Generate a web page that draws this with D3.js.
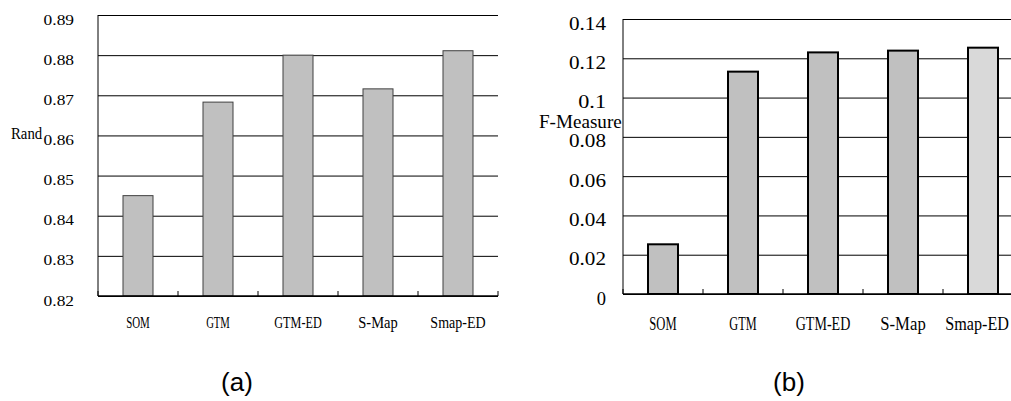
<!DOCTYPE html>
<html>
<head>
<meta charset="utf-8">
<script src="https://cdn.jsdelivr.net/npm/d3@7"></script>
<style>
  body { margin: 0; background: #fff; }
  svg { display: block; }
</style>
</head>
<body>
<div id="chart"></div>
<script>
// data
const categories = ['SOM', 'GTM', 'GTM-ED', 'S-Map', 'Smap-ED'];
const randValues = [0.8450, 0.8683, 0.8800, 0.8716, 0.8811];
const fValues = [0.0253, 0.1132, 0.1230, 0.1239, 0.1254];
const randTicks = [0.82, 0.83, 0.84, 0.85, 0.86, 0.87, 0.88, 0.89];
const fTicks = [0, 0.02, 0.04, 0.06, 0.08, 0.1, 0.12, 0.14];
const yTitles = ['Rand', 'F-Measure'];
const captions = ['(a)', '(b)'];

const width = 1011, height = 401;
const serif = '"Liberation Serif", "DejaVu Serif", serif';

const svg = d3.select('#chart')
  .append('svg')
  .attr('width', width)
  .attr('height', height);

// SimSun-like look: squeeze/stretch each text so every char takes charW px
function fixedWidth(sel, fs, charW, px, py) {
  sel.attr('font-family', serif)
    .attr('font-size', fs)
    .attr('fill', '#000')
    .attr('x', 0)
    .attr('y', 0)
    .attr('dy', null)
    .each(function (d) {
      const w = this.getComputedTextLength();
      const sx = (this.textContent.length * charW) / w;
      const tx = typeof px === 'function' ? px(d) : px;
      d3.select(this).attr('transform', `translate(${tx},${py}) scale(${sx},1)`);
    });
}

const panels = [
  {
    values: randValues, ticks: randTicks, fmt: d3.format('.2f'),
    left: 98, right: 498, top: 15, bottom: 296,
    tickFs: 15.5, tickW: 7.6, tickPad: 24, tickDy: 9,
    labelFs: 17, labelW: 7.9, labelY: 328,
    fills: ['#c0c0c0', '#c0c0c0', '#c0c0c0', '#c0c0c0', '#c0c0c0'],
    stroke: '#404040', sw: 1,
    title: yTitles[0], titleFs: 16, titleW: 7.8, titleX: 11, titleY: 139,
    caption: captions[0], captionX: 237
  },
  {
    values: fValues, ticks: fTicks, fmt: d3.format('.2~f'),
    left: 623, right: 1023, top: 19, bottom: 294,
    tickFs: 19, tickW: 9.25, tickPad: 17, tickDy: 10,
    labelFs: 19.5, labelW: 9.1, labelY: 330,
    fills: ['#c0c0c0', '#c0c0c0', '#c0c0c0', '#c0c0c0', '#d9d9d9'],
    stroke: '#000', sw: 2,
    title: yTitles[1], titleFs: 19, titleW: 9.2, titleX: 539, titleY: 128,
    caption: captions[1], captionX: 789
  }
];

panels.forEach((p) => {
  const g = svg.append('g');

  const x = d3.scaleBand()
    .domain(categories)
    .range([p.left, p.right]);
  const y = d3.scaleLinear()
    .domain(d3.extent(p.ticks))
    .range([p.bottom, p.top]);

  // gridlines + tick labels
  const yAxis = g.append('g')
    .attr('transform', `translate(${p.left},0)`)
    .call(d3.axisLeft(y)
      .tickValues(p.ticks)
      .tickFormat(p.fmt)
      .tickSizeInner(-(p.right - p.left))
      .tickSizeOuter(0)
      .tickPadding(p.tickPad));
  yAxis.select('.domain').remove();
  yAxis.selectAll('.tick line').attr('stroke', '#000');
  yAxis.selectAll('.tick text')
    .call(fixedWidth, p.tickFs, p.tickW, -p.tickPad, p.tickDy);

  // bars
  const barW = x.bandwidth() * 0.375;
  g.append('g')
    .selectAll('rect')
    .data(p.values)
    .enter()
    .append('rect')
    .attr('x', (d, i) => x(categories[i]) + (x.bandwidth() - barW) / 2)
    .attr('y', (d) => y(d))
    .attr('width', barW)
    .attr('height', (d) => y(p.ticks[0]) - y(d))
    .attr('fill', (d, i) => p.fills[i])
    .attr('stroke', p.stroke)
    .attr('stroke-width', p.sw);

  // axis lines
  g.append('line')
    .attr('x1', p.left).attr('x2', p.left)
    .attr('y1', p.top).attr('y2', p.bottom)
    .attr('stroke', '#000');
  g.append('line')
    .attr('x1', p.left).attr('x2', p.right)
    .attr('y1', p.bottom).attr('y2', p.bottom)
    .attr('stroke', '#000').attr('stroke-width', 1.5);

  // small tick marks at band edges, pointing up
  const edges = categories.map((c) => x(c)).concat([p.right]);
  g.append('g')
    .selectAll('line')
    .data(edges)
    .enter()
    .append('line')
    .attr('x1', (d) => d).attr('x2', (d) => d)
    .attr('y1', p.bottom).attr('y2', p.bottom - 5)
    .attr('stroke', '#000');

  // category labels, pulled back inside the page if they would overflow
  g.append('g')
    .selectAll('text')
    .data(categories)
    .enter()
    .append('text')
    .attr('text-anchor', 'middle')
    .text((d) => d)
    .call(fixedWidth, p.labelFs, p.labelW, (d) => {
      const half = d.length * p.labelW / 2;
      return Math.min(x(d) + x.bandwidth() / 2, width - 2 - half);
    }, p.labelY);

  // y title
  g.append('text')
    .text(p.title)
    .call(fixedWidth, p.titleFs, p.titleW, p.titleX, p.titleY);

  // caption
  g.append('text')
    .attr('x', p.captionX)
    .attr('y', 391)
    .attr('text-anchor', 'middle')
    .attr('font-family', '"Liberation Sans", Arial, sans-serif')
    .attr('font-size', 26)
    .text(p.caption);
});
</script>
</body>
</html>
